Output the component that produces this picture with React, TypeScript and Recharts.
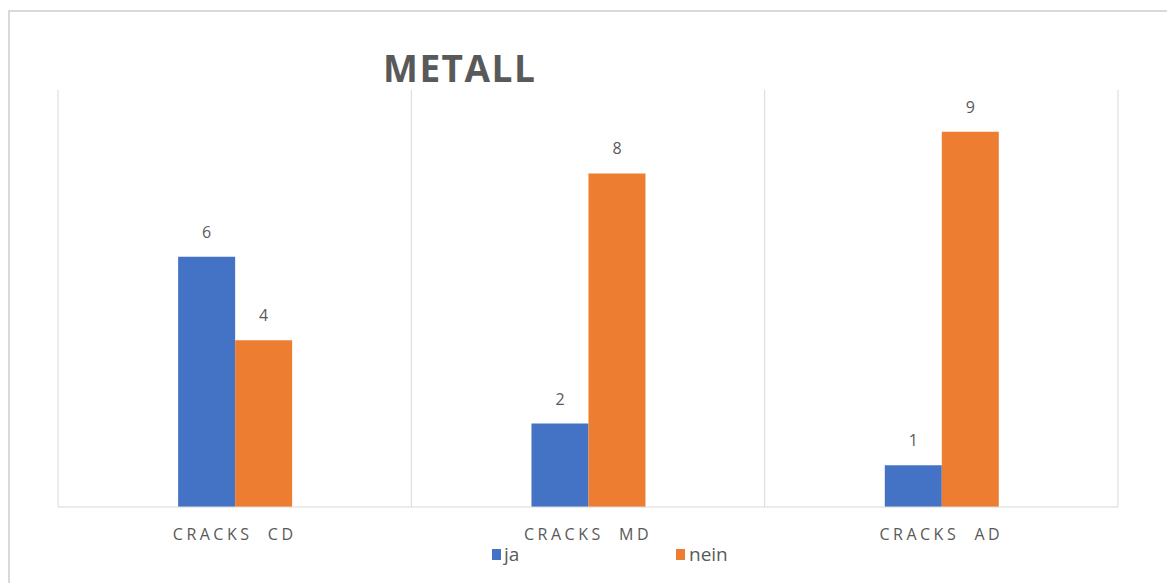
import { BarChart, Bar, XAxis, YAxis, CartesianGrid, LabelList } from "recharts";

const categories = ["CRACKS  CD", "CRACKS  MD", "CRACKS  AD"];
const jaValues = [6, 2, 1];
const neinValues = [4, 8, 9];

const data = categories.map((name, i) => ({
  name,
  ja: jaValues[i],
  nein: neinValues[i],
}));

const BLUE = "#4472C4";
const ORANGE = "#ED7D31";
const GRAY_TEXT = "#595959";
const GRID = "#d9d9d9";
const FONT = "'Open Sans', 'Liberation Sans', sans-serif";

function CategoryTick(props: any) {
  const { x, y, payload } = props;
  return (
    <text
      x={x}
      y={y + 25}
      textAnchor="middle"
      fill={GRAY_TEXT}
      fontSize={16}
      fontFamily={FONT}
      letterSpacing={3.5}
      style={{ whiteSpace: "pre" }}
    >
      {payload.value}
    </text>
  );
}

export default function App() {
  return (
    <div
      style={{
        position: "relative",
        width: 1165,
        height: 571,
        marginTop: 2,
        borderTop: `2px solid ${GRID}`,
        borderLeft: `2px solid ${GRID}`,
        fontFamily: FONT,
      }}
    >
      <div
        style={{
          position: "absolute",
          left: 373,
          top: 30,
          fontSize: 37,
          fontWeight: 700,
          color: GRAY_TEXT,
          letterSpacing: 1.5,
        }}
      >
        METALL
      </div>
      <BarChart
        width={1165}
        height={571}
        data={data}
        margin={{ top: 78, right: 57, left: 48, bottom: 36 }}
        barCategoryGap="34%"
        barGap={0}
      >
        <CartesianGrid
          horizontal={false}
          stroke={GRID}
          verticalCoordinatesGenerator={({ offset }: any) => {
            const step = offset.width / categories.length;
            return categories.map((_, i) => offset.left + step * i).concat(offset.left + offset.width);
          }}
        />
        <XAxis
          dataKey="name"
          height={40}
          axisLine={{ stroke: GRID }}
          tickLine={false}
          tick={<CategoryTick />}
          interval={0}
        />
        <YAxis hide domain={[0, 10]} />
        <Bar dataKey="ja" fill={BLUE} isAnimationActive={false}>
          <LabelList
            dataKey="ja"
            position="top"
            offset={19}
            fill={GRAY_TEXT}
            fontSize={16}
            fontFamily={FONT}
          />
        </Bar>
        <Bar dataKey="nein" fill={ORANGE} isAnimationActive={false}>
          <LabelList
            dataKey="nein"
            position="top"
            offset={19}
            fill={GRAY_TEXT}
            fontSize={16}
            fontFamily={FONT}
          />
        </Bar>
      </BarChart>
      <div
        style={{
          position: "absolute",
          left: 482,
          top: 529,
          display: "flex",
          alignItems: "center",
          fontSize: 19,
          color: GRAY_TEXT,
        }}
      >
        <span style={{ width: 9, height: 11, background: BLUE, display: "inline-block", marginRight: 3 }} />
        <span style={{ width: 172 }}>ja</span>
        <span style={{ width: 9, height: 11, background: ORANGE, display: "inline-block", marginRight: 4 }} />
        <span>nein</span>
      </div>
    </div>
  );
}
